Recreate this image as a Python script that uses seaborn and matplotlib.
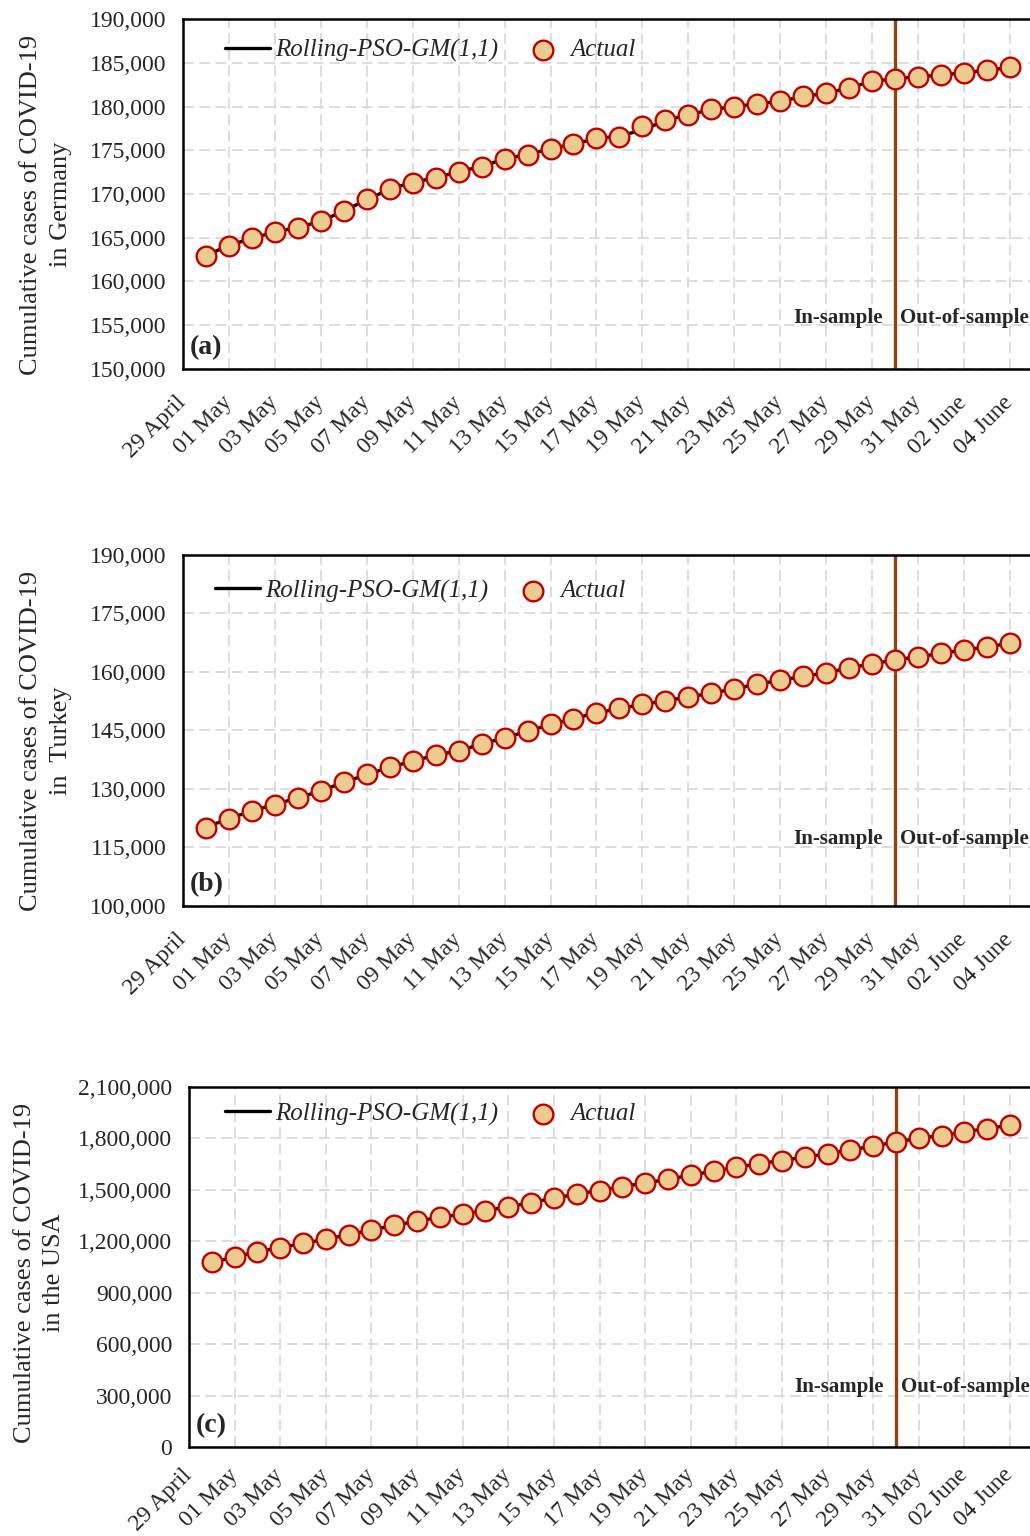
import pandas as pd
import matplotlib
matplotlib.use("Agg")
import matplotlib.pyplot as plt
import matplotlib.transforms as mtransforms
from matplotlib.ticker import StrMethodFormatter
import seaborn as sns

# data
dates = pd.date_range("2020-04-30", "2020-06-04", freq="D")

germany_actual = [162950, 164040, 164950, 165640, 166130, 166970, 168110, 169410,
                  170550, 171310, 171840, 172530, 173130, 174050, 174500, 175150,
                  175720, 176370, 176560, 177780, 178460, 178990, 179720, 179980,
                  180330, 180590, 181160, 181500, 182150, 182910, 183180, 183410,
                  183560, 183870, 184130, 184470]
germany_model = [162950, 164150, 164900, 165700, 166150, 166900, 168050, 169350,
                 170550, 171350, 171850, 172550, 173150, 174000, 174550, 175150,
                 175750, 176300, 176650, 177300, 178400, 179050, 179650, 180000,
                 180300, 180600, 181150, 181500, 182150, 182850, 183200, 183400,
                 183600, 183850, 184150, 184450]

turkey_actual = [120110, 122420, 124300, 126010, 127720, 129520, 131660, 133710,
                 135510, 137220, 138670, 139790, 141500, 143120, 144830, 146550,
                 148000, 149540, 150650, 151760, 152620, 153650, 154590, 155700,
                 156900, 157920, 158870, 159810, 161090, 162030, 163060, 163910,
                 164770, 165630, 166480, 167340]
turkey_model = [120200, 122400, 124350, 126050, 127700, 129500, 131700, 133700,
                135550, 137150, 138650, 139800, 141500, 143100, 144800, 146500,
                148050, 149500, 150600, 151700, 152600, 153600, 154550, 155700,
                156850, 157900, 158850, 159800, 161050, 162050, 163100, 163900,
                164750, 165600, 166450, 167350]

usa_actual = [1077000, 1110000, 1139000, 1163000, 1188000, 1212000, 1239000, 1266000,
              1293000, 1319000, 1340000, 1358000, 1379000, 1401000, 1426000, 1453000,
              1475000, 1496000, 1519000, 1539000, 1562000, 1586000, 1611000, 1632000,
              1652000, 1671000, 1691000, 1710000, 1734000, 1755000, 1780000, 1800000,
              1817000, 1837000, 1858000, 1878000]
usa_model = [1077000, 1109000, 1139000, 1164000, 1188000, 1212000, 1239000, 1266000,
             1293000, 1318000, 1340000, 1359000, 1380000, 1401000, 1426000, 1452000,
             1475000, 1497000, 1519000, 1540000, 1562000, 1586000, 1610000, 1632000,
             1652000, 1672000, 1691000, 1711000, 1733000, 1756000, 1780000, 1800000,
             1818000, 1838000, 1858000, 1877000]

tick_dates = pd.date_range("2020-04-29", "2020-06-04", freq="2D")
tick_labels = ["29 April", "01 May", "03 May", "05 May", "07 May", "09 May", "11 May",
               "13 May", "15 May", "17 May", "19 May", "21 May", "23 May", "25 May",
               "27 May", "29 May", "31 May", "02 June", "04 June"]
split_date = pd.Timestamp("2020-05-30")

panels = [
    dict(actual=germany_actual, model=germany_model, ylim=(150000, 190000), step=5000,
         ylabel="Cumulative cases of COVID-19\nin Germany", tag="(a)", txt_y=0.145, xpad=22,
         leg=(0.0496, 0.911), lab=(-0.131, 0.47), rect=[0.1777, 0.7598, 0.8223, 0.2278]),
    dict(actual=turkey_actual, model=turkey_model, ylim=(100000, 190000), step=15000,
         ylabel="Cumulative cases of COVID-19\nin  Turkey", tag="(b)", txt_y=0.192, xpad=22,
         leg=(0.0378, 0.897), lab=(-0.131, 0.47), rect=[0.1777, 0.4102, 0.8223, 0.2285]),
    dict(actual=usa_actual, model=usa_model, ylim=(0, 2100000), step=300000,
         ylabel="Cumulative cases of COVID-19\nin the USA", tag="(c)", txt_y=0.168, xpad=18,
         leg=(0.0428, 0.925), lab=(-0.147, 0.485), rect=[0.1835, 0.0579, 0.8165, 0.2344]),
]

sns.set_style("white")
plt.rcParams['font.family'] = ['Liberation Serif', 'DejaVu Serif']

fig = plt.figure(figsize=(10.3, 15.36), dpi=100)

for p in panels:
    ax = fig.add_axes(p["rect"])
    ax.grid(True, color="#d9d9d9", linestyle=(0, (6, 3)), linewidth=1.3)
    ax.set_axisbelow(True)

    sns.lineplot(x=dates, y=p["model"], color="black", linewidth=2.4, ax=ax,
                 label="Rolling-PSO-GM(1,1)", zorder=2)
    sns.scatterplot(x=dates, y=p["actual"], s=200, color="#ebcb8f", edgecolor="#c00000",
                    linewidth=1.7, ax=ax, label="Actual", zorder=3)

    ax.axvline(split_date, color="#8b4513", linewidth=2.4, zorder=2)

    lo, hi = p["ylim"]
    ax.set_ylim(lo, hi)
    ax.set_yticks(range(lo, hi + 1, p["step"]))
    ax.yaxis.set_major_formatter(StrMethodFormatter("{x:,.0f}"))
    ax.set_xlim(pd.Timestamp("2020-04-29"), pd.Timestamp("2020-06-04") + pd.Timedelta(hours=21))
    ax.set_xticks(tick_dates)
    ax.set_xticklabels(tick_labels, rotation=45, ha="right", va="center",
                       rotation_mode="anchor")
    ax.tick_params(axis="x", direction="in", length=6, width=1.3, pad=p["xpad"], labelsize=17)
    ax.tick_params(axis="y", direction="out", length=4, width=1.3, pad=8, labelsize=17)
    ax.set_xlabel("")
    ax.set_ylabel(p["ylabel"], fontsize=19, linespacing=1.45)
    ax.yaxis.set_label_coords(*p["lab"])

    for side in ["top", "left", "bottom"]:
        ax.spines[side].set_color("black")
        ax.spines[side].set_linewidth(1.8)
    ax.spines["right"].set_visible(False)

    ax.legend(loc="center left", bbox_to_anchor=p["leg"], ncol=2, frameon=False,
              prop=dict(family="Liberation Serif", style="italic", size=18),
              borderaxespad=0, borderpad=0,
              handlelength=1.8, handletextpad=0.2, columnspacing=0.9)

    ax.text(0.008, 0.025, p["tag"], transform=ax.transAxes, fontsize=20,
            fontweight="bold", ha="left", va="bottom")

    trans = mtransforms.blended_transform_factory(ax.transData, ax.transAxes)
    off_l = mtransforms.offset_copy(trans, fig=fig, x=-12, y=0, units="dots")
    off_r = mtransforms.offset_copy(trans, fig=fig, x=5, y=0, units="dots")
    ax.text(split_date, p["txt_y"], "In-sample", transform=off_l, fontsize=15,
            fontweight="bold", ha="right", va="center")
    ax.text(split_date, p["txt_y"], "Out-of-sample", transform=off_r, fontsize=15,
            fontweight="bold", ha="left", va="center")

fig.savefig("out.png", dpi=100)
